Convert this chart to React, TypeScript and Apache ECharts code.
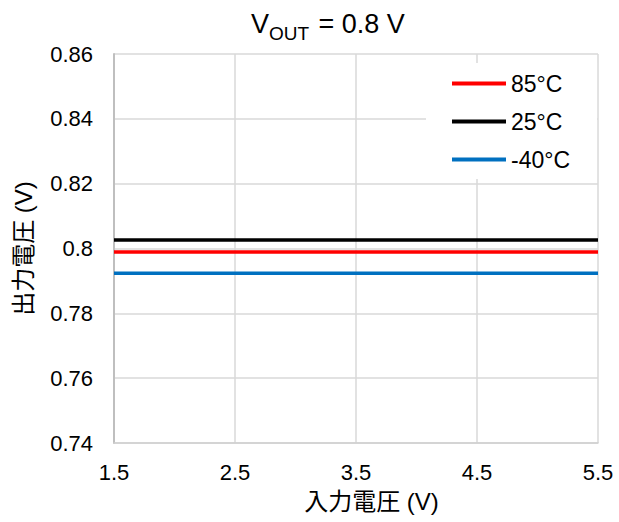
import React, { useEffect, useRef } from "react";
import * as echarts from "echarts";

const xValues = [1.5, 2.0, 2.5, 3.0, 3.5, 4.0, 4.5, 5.0, 5.5];
const seriesNames = ["85°C", "25°C", "-40°C"];
const v85 = [0.7989, 0.7989, 0.7989, 0.7989, 0.7989, 0.7989, 0.7989, 0.7989, 0.7989];
const v25 = [0.8026, 0.8026, 0.8026, 0.8026, 0.8026, 0.8026, 0.8026, 0.8026, 0.8026];
const vm40 = [0.7924, 0.7924, 0.7924, 0.7924, 0.7924, 0.7924, 0.7924, 0.7924, 0.7924];
const seriesColors = ["#ff0000", "#000000", "#0070c0"];

const FONT = "'Liberation Sans', Arial, 'Noto Sans CJK JP', sans-serif";

export default function App() {
  const ref = useRef<HTMLDivElement>(null);
  useEffect(() => {
    if (!ref.current) return;
    const chart = echarts.init(ref.current, null, { renderer: "svg" });
    const allData = [v85, v25, vm40];
    chart.setOption({
      animation: false,
      backgroundColor: "#ffffff",
      textStyle: { fontFamily: FONT },
      grid: { left: 114, right: 21, top: 54, bottom: 79, containLabel: false },
      graphic: [
        {
          type: "text",
          x: 251,
          y: 37,
          style: { text: "V", fontSize: 27, fontFamily: FONT, fill: "#000", verticalAlign: "bottom" },
        },
        {
          type: "text",
          x: 269,
          y: 43,
          style: { text: "OUT", fontSize: 19, fontFamily: FONT, fill: "#000", verticalAlign: "bottom" },
        },
        {
          type: "text",
          x: 311,
          y: 37,
          style: { text: " = 0.8 V", fontSize: 27, fontFamily: FONT, fill: "#000", verticalAlign: "bottom" },
        },
      ],
      legend: {
        orient: "vertical",
        left: 426,
        top: 63,
        backgroundColor: "#ffffff",
        padding: [9, 27, 8, 26],
        itemGap: 15,
        itemWidth: 54,
        itemHeight: 4,
        icon: "rect",
        data: seriesNames,
        textStyle: { fontSize: 23, color: "#000", fontFamily: FONT, lineHeight: 21 },
      },
      xAxis: {
        type: "value",
        min: 1.5,
        max: 5.5,
        interval: 1,
        name: "入力電圧 (V)",
        nameLocation: "middle",
        nameGap: 46,
        nameTextStyle: { fontSize: 24, color: "#000", fontFamily: FONT, padding: [0, 0, 0, 31] },
        axisLine: { show: true, lineStyle: { color: "#cfcfcf", width: 1.5 } },
        axisTick: { show: false },
        axisLabel: { fontSize: 22, color: "#000", margin: 18, fontFamily: FONT, formatter: (v: number) => v.toFixed(1) },
        splitLine: { show: true, lineStyle: { color: "#d9d9d9", width: 1.5 } },
      },
      yAxis: {
        type: "value",
        min: 0.74,
        max: 0.86,
        interval: 0.02,
        name: "出力電圧 (V)",
        nameLocation: "middle",
        nameGap: 79,
        nameRotate: 90,
        nameTextStyle: { fontSize: 24, color: "#000", fontFamily: FONT },
        axisLine: { show: true, lineStyle: { color: "#bfbfbf", width: 2 } },
        axisTick: { show: false },
        axisLabel: {
          fontSize: 22,
          color: "#000",
          margin: 21,
          fontFamily: FONT,
          formatter: (v: number) => String(parseFloat(v.toFixed(2))),
        },
        splitLine: { show: true, lineStyle: { color: "#d9d9d9", width: 1.5 } },
      },
      series: seriesNames.map((name, i) => ({
        name,
        type: "line",
        showSymbol: false,
        symbol: "none",
        color: seriesColors[i],
        lineStyle: { color: seriesColors[i], width: 3.5 },
        data: xValues.map((x, j) => [x, allData[i][j]]),
      })),
    });
    return () => chart.dispose();
  }, []);
  return (
    <div
      ref={ref}
      style={{ position: "fixed", left: 0, top: 0, width: 619, height: 522 }}
    />
  );
}
